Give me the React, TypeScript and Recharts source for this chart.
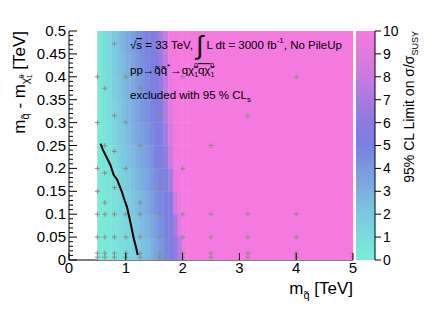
import React from "react";
import { ScatterChart, Scatter, XAxis, YAxis, BarChart, Bar } from "recharts";

const FONT = '"Liberation Sans", Arial, Helvetica, sans-serif';

// heat map bins in TeV (bin centres); everything right of the last column is above 10
const msqBins = [
  0.542, 0.625, 0.708, 0.792, 0.875, 0.958, 1.042, 1.125, 1.208, 1.292,
  1.375, 1.458, 1.542, 1.625, 1.708, 1.792, 1.875, 1.958, 2.042, 2.125,
];
const dmBins = [0.025, 0.075, 0.125, 0.175, 0.225, 0.275, 0.325, 0.375, 0.425, 0.475];
const BIN_W = 0.08333;
const BIN_H = 0.05;

// 95% CL limit on sigma/sigma_SUSY, one row per dm bin (bottom to top)
const limitDm025 = [0.1, 0.2, 0.3, 0.5, 0.7, 0.9, 1.2, 1.5, 1.8, 2.2, 2.6, 3.0, 3.5, 4.0, 4.7, 5.2, 6.3, 7.8, 10.5, 11];
const limitDm075 = [0.1, 0.2, 0.4, 0.6, 0.8, 1.1, 1.4, 1.7, 2.1, 2.5, 2.9, 3.3, 3.8, 4.4, 4.9, 5.4, 7.0, 9.5, 11, 11];
const limitDm125 = [0.1, 0.3, 0.5, 0.8, 1.0, 1.3, 1.7, 2.0, 2.4, 2.8, 3.2, 3.7, 4.2, 4.7, 5.1, 6.0, 8.5, 10.5, 11, 11];
const limitDm175 = [0.2, 0.4, 0.6, 0.9, 1.2, 1.6, 2.0, 2.3, 2.7, 3.1, 3.5, 4.0, 4.5, 4.9, 5.4, 7.0, 9.5, 11, 11, 11];
const limitDm225 = [0.2, 0.5, 0.8, 1.1, 1.5, 1.9, 2.3, 2.6, 3.0, 3.4, 3.8, 4.3, 4.9, 5.3, 6.4, 8.2, 10.2, 11, 11, 11];
const limitDm275 = [0.2, 0.5, 0.9, 1.3, 1.7, 2.1, 2.5, 2.9, 3.3, 3.7, 4.1, 4.6, 5.0, 5.5, 7.0, 8.8, 10.5, 11, 11, 11];
const limitDm325 = [0.3, 0.6, 1.0, 1.4, 1.9, 2.3, 2.7, 3.1, 3.5, 3.9, 4.3, 4.8, 5.2, 6.0, 7.4, 9.2, 11, 11, 11, 11];
const limitDm375 = [0.3, 0.7, 1.1, 1.6, 2.0, 2.5, 2.9, 3.3, 3.7, 4.1, 4.5, 4.9, 5.4, 6.4, 7.8, 9.5, 11, 11, 11, 11];
const limitDm425 = [0.3, 0.7, 1.2, 1.7, 2.2, 2.6, 3.1, 3.5, 3.9, 4.3, 4.7, 5.1, 5.6, 6.7, 8.0, 9.8, 11, 11, 11, 11];
const limitDm475 = [0.3, 0.8, 1.3, 1.8, 2.3, 2.8, 3.3, 3.7, 4.1, 4.5, 4.9, 5.2, 5.8, 7.0, 8.3, 10, 11, 11, 11, 11];
const limitRows = [
  limitDm025, limitDm075, limitDm125, limitDm175, limitDm225,
  limitDm275, limitDm325, limitDm375, limitDm425, limitDm475,
];

// saturated block from msq 2.167 to 5 TeV
const saturatedBlock = { x: 3.5833, y: 0.25, w: 2.8333, h: 0.5, v: 11 };

// signal grid points
const pointMsq = [
  0.8, 0.5, 1.0, 2.0, 4.0, 0.63, 1.25, 0.8, 1.6, 3.15, 0.5, 1.0, 0.63, 1.25, 2.5, 0.8,
  0.5, 1.0, 2.0, 0.63, 0.8, 1.6, 0.5, 0.63, 1.25,
  0.5, 0.63, 0.8, 1.0, 1.25, 1.6, 2.0, 2.5, 3.15, 4.0,
  0.5, 0.63, 0.8, 1.0, 1.25, 1.6, 2.0, 2.5, 3.15, 4.0,
  0.5, 0.63, 0.8, 1.0, 1.25, 1.6, 2.0, 2.5, 3.15, 4.0, 5.0,
  0.5, 0.63, 0.8, 1.0, 1.25, 1.6, 2.0, 2.5, 3.15, 4.0, 5.0,
];
const pointDm = [
  0.472, 0.4, 0.4, 0.4, 0.4, 0.375, 0.375, 0.315, 0.315, 0.315, 0.3, 0.3, 0.25, 0.25, 0.25, 0.237,
  0.2, 0.2, 0.2, 0.19, 0.158, 0.158, 0.15, 0.125, 0.125,
  0.1, 0.1, 0.1, 0.1, 0.1, 0.1, 0.1, 0.1, 0.1, 0.1,
  0.05, 0.05, 0.05, 0.05, 0.05, 0.05, 0.05, 0.05, 0.05, 0.05,
  0.015, 0.015, 0.015, 0.015, 0.015, 0.015, 0.015, 0.015, 0.015, 0.015, 0.015,
  0.006, 0.006, 0.006, 0.006, 0.006, 0.006, 0.006, 0.006, 0.006, 0.006, 0.006,
];

// exclusion contour
const contourMsq = [0.555, 0.6, 0.66, 0.73, 0.786, 0.845, 0.88, 0.93, 0.98, 1.02, 1.05, 1.08, 1.11, 1.14, 1.18, 1.21];
const contourDm = [0.254, 0.24, 0.225, 0.207, 0.186, 0.176, 0.165, 0.149, 0.13, 0.116, 0.1, 0.083, 0.065, 0.047, 0.028, 0.011];

const xTicks = [0, 1, 2, 3, 4, 5];
const yAllTicks = Array.from({ length: 51 }, (_, i) => i / 100);
const zTicks = [0, 1, 2, 3, 4, 5, 6, 7, 8, 9, 10];

const paletteStops: [number, string][] = [
  [0, "#78eed8"], [1, "#7adcdc"], [2, "#7cc8e0"], [3, "#7cb0e0"], [4, "#7a98e0"],
  [5, "#7a80e0"], [6, "#8a7ae0"], [7, "#a87ae0"], [8, "#c87ae0"], [9, "#e07ae0"], [10, "#f47ae0"],
];

const W = 432;
const H = 310;
const PLOT_LEFT = 69;
const PLOT_RIGHT = 353;
const PLOT_TOP = 31;
const PLOT_BOTTOM = 260;
const PX_X = (PLOT_RIGHT - PLOT_LEFT) / 5;
const PX_Y = (PLOT_BOTTOM - PLOT_TOP) / 0.5;

const hex = (s: string) => [1, 3, 5].map((i) => parseInt(s.slice(i, i + 2), 16));

function colorFor(v: number) {
  const c = Math.max(0, Math.min(10, v));
  for (let i = 1; i < paletteStops.length; i++) {
    const [v1, c1] = paletteStops[i];
    if (c <= v1) {
      const [v0, c0] = paletteStops[i - 1];
      const t = (c - v0) / (v1 - v0);
      const a = hex(c0);
      const b = hex(c1);
      const m = a.map((x, k) => Math.round(x + (b[k] - x) * t));
      return `rgb(${m[0]},${m[1]},${m[2]})`;
    }
  }
  return paletteStops[paletteStops.length - 1][1];
}

const cells = [
  saturatedBlock,
  ...limitRows.flatMap((row, r) =>
    row.map((v, c) => ({ x: msqBins[c], y: dmBins[r], w: BIN_W, h: BIN_H, v }))
  ),
];
const points = pointMsq.map((x, i) => ({ x, y: pointDm[i] }));
const contour = contourMsq.map((x, i) => ({ x, y: contourDm[i] }));

const CellShape = (props: any) => {
  const { cx, cy, payload } = props;
  const w = payload.w * PX_X;
  const h = payload.h * PX_Y;
  // a hair of overlap so the seams stay faint
  return (
    <rect
      x={cx - w / 2 - 0.2}
      y={cy - h / 2 - 0.2}
      width={w + 0.4}
      height={h + 0.4}
      fill={colorFor(payload.v)}
    />
  );
};

const Cross = (props: any) => {
  const { cx, cy } = props;
  return (
    <g stroke="#8a8a8a" strokeWidth={1}>
      <line x1={cx - 2.5} x2={cx + 2.5} y1={cy} y2={cy} />
      <line x1={cx} x2={cx} y1={cy - 2.5} y2={cy + 2.5} />
    </g>
  );
};

const isMajorY = (v: number) => Math.abs(v * 20 - Math.round(v * 20)) < 1e-6;
const fmtY = (v: number) => String(Number(v.toFixed(2)));

const BottomTick = ({ x, y, payload }: any) => (
  <g>
    <line x1={x} x2={x} y1={y} y2={y - 7} stroke="#000" />
    <text x={x} y={y + 13} textAnchor="middle" fontSize={15} fontFamily={FONT} fill="#000">
      {payload.value}
    </text>
  </g>
);

const TopTick = ({ x, y }: any) => <line x1={x} x2={x} y1={y} y2={y + 7} stroke="#000" />;

const LeftTick = ({ x, y, payload }: any) => {
  const major = isMajorY(payload.value);
  return (
    <g>
      <line x1={x} x2={x + (major ? 8 : 4)} y1={y} y2={y} stroke="#000" />
      {major && (
        <text x={x - 3} y={y + 5} textAnchor="end" fontSize={15} fontFamily={FONT} fill="#000">
          {fmtY(payload.value)}
        </text>
      )}
    </g>
  );
};

const RightTick = ({ x, y, payload }: any) => {
  const major = isMajorY(payload.value);
  return <line x1={x} x2={x - (major ? 8 : 4)} y1={y} y2={y} stroke="#000" />;
};

export default function App() {
  return (
    <div style={{ position: "absolute", left: 0, top: 0, width: W, height: H, background: "#fff", fontFamily: FONT }}>
      <svg width={0} height={0} style={{ position: "absolute" }}>
        <defs>
          <linearGradient id="zgrad" x1="0" y1="1" x2="0" y2="0">
            {paletteStops.map(([v, c]) => (
              <stop key={v} offset={v / 10} stopColor={c} />
            ))}
          </linearGradient>
        </defs>
      </svg>

      <div style={{ position: "absolute", left: 0, top: 0 }}>
        <ScatterChart
          width={W}
          height={H}
          margin={{ top: PLOT_TOP, right: W - PLOT_RIGHT, left: 0, bottom: 0 }}
        >
          <Scatter data={cells} shape={CellShape} isAnimationActive={false} />
          <Scatter data={points} shape={Cross} isAnimationActive={false} />
          <Scatter
            data={contour}
            line={{ stroke: "#000", strokeWidth: 2 }}
            shape={() => <g />}
            isAnimationActive={false}
          />
          <XAxis
            type="number"
            dataKey="x"
            domain={[0, 5]}
            ticks={xTicks}
            interval={0}
            allowDataOverflow
            height={H - PLOT_BOTTOM}
            tickLine={false}
            tickSize={0}
            tickMargin={0}
            axisLine={{ stroke: "#000" }}
            tick={(p: any) => <BottomTick {...p} />}
          />
          <XAxis
            xAxisId="top"
            orientation="top"
            type="number"
            domain={[0, 5]}
            ticks={xTicks}
            interval={0}
            allowDataOverflow
            height={0}
            tickLine={false}
            tickSize={0}
            tickMargin={0}
            axisLine={{ stroke: "#000" }}
            tick={(p: any) => <TopTick {...p} />}
          />
          <YAxis
            type="number"
            dataKey="y"
            domain={[0, 0.5]}
            ticks={yAllTicks}
            interval={0}
            allowDataOverflow
            width={PLOT_LEFT}
            tickLine={false}
            tickSize={0}
            tickMargin={0}
            axisLine={{ stroke: "#000" }}
            tick={(p: any) => <LeftTick {...p} />}
          />
          <YAxis
            yAxisId="right"
            orientation="right"
            type="number"
            domain={[0, 0.5]}
            ticks={yAllTicks}
            interval={0}
            allowDataOverflow
            width={0}
            tickLine={false}
            tickSize={0}
            tickMargin={0}
            axisLine={{ stroke: "#000" }}
            tick={(p: any) => <RightTick {...p} />}
          />
        </ScatterChart>
      </div>

      <div style={{ position: "absolute", left: 0, top: 0 }}>
        <BarChart
          width={W}
          height={H}
          data={[{ name: "z", top: zTicks[zTicks.length - 1] }]}
          margin={{ top: PLOT_TOP, right: 27, left: 356, bottom: H - PLOT_BOTTOM }}
          barCategoryGap={0}
        >
          <XAxis dataKey="name" hide />
          <YAxis
            orientation="right"
            domain={[0, 10]}
            ticks={zTicks}
            interval={0}
            width={30}
            tickSize={6}
            tickMargin={2}
            axisLine={{ stroke: "#000" }}
            tickLine={{ stroke: "#000" }}
            tick={{ fill: "#000", fontSize: 14, fontFamily: FONT }}
          />
          <Bar dataKey="top" fill="url(#zgrad)" isAnimationActive={false} />
        </BarChart>
      </div>

      <svg
        width={W}
        height={H}
        style={{ position: "absolute", left: 0, top: 0, pointerEvents: "none" }}
        fontFamily={FONT}
        fill="#000"
      >
        <text x={130} y={49} fontSize={11.5}>
          √<tspan style={{ textDecoration: "overline" }}>s</tspan> = 33 TeV,{" "}
          <tspan fontSize={26} dy={5}>∫</tspan>
          <tspan dy={-5}> L dt = 3000 fb</tspan>
          <tspan fontSize={8} dy={-6}>-1</tspan>
          <tspan dy={6}>, No PileUp</tspan>
        </text>
        <text x={130} y={74} fontSize={11.5}>
          pp→q̃q̃<tspan fontSize={8} dy={-5}>*</tspan>
          <tspan dy={5}>→qχ̃</tspan>
          <tspan fontSize={7} dy={3}>1</tspan>
          <tspan fontSize={7} dx={-4} dy={-9}>0</tspan>
          <tspan dy={6} style={{ textDecoration: "overline" }}>qχ̃</tspan>
          <tspan fontSize={7} dy={3}>1</tspan>
          <tspan fontSize={7} dx={-4} dy={-9}>0</tspan>
        </text>
        <text x={130} y={99} fontSize={11.5}>
          excluded with 95 % CL<tspan fontSize={8} dy={3}>s</tspan>
        </text>

        <text transform="rotate(-90)" x={-PLOT_TOP} y={25} textAnchor="end" fontSize={17}>
          m<tspan fontSize={11} dy={4}>q̃</tspan>
          <tspan dy={-4}> - m</tspan>
          <tspan fontSize={11} dy={4}>χ̃</tspan>
          <tspan fontSize={7} dy={3}>1</tspan>
          <tspan fontSize={7} dx={-4} dy={-8}>0</tspan>
          <tspan dy={1}> [TeV]</tspan>
        </text>

        <text x={PLOT_RIGHT} y={294} textAnchor="end" fontSize={17}>
          m<tspan fontSize={11} dy={5}>q̃</tspan>
          <tspan dy={-5}> [TeV]</tspan>
        </text>

        <text transform="rotate(-90)" x={-PLOT_TOP} y={414} textAnchor="end" fontSize={14}>
          95% CL Limit on σ/σ<tspan fontSize={9} dy={4}>SUSY</tspan>
        </text>
      </svg>
    </div>
  );
}
